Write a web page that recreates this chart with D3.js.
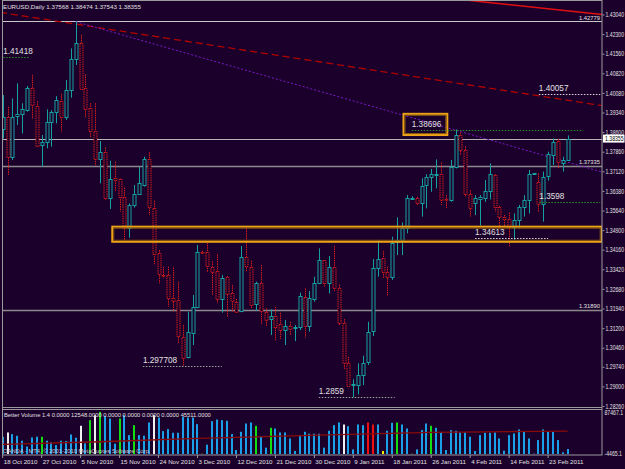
<!DOCTYPE html>
<html>
<head>
<meta charset="utf-8">
<script src="https://cdn.jsdelivr.net/npm/d3@7"></script>
<style>
    body { margin: 0; background: #1c002c; }
    text { font-family: "Liberation Sans", Arial, sans-serif; }
</style>
</head>
<body>
<script>
    // EURUSD daily bars, 18 Oct 2010 .. 25 Feb 2011
    var opens = [1.3874,1.3918,1.3767,1.3918,1.3927,1.3943,1.4025,1.3960,1.3811,1.3824,
        1.3899,1.3937,1.3977,1.3916,1.4019,1.4135,1.4195,1.4028,1.3950,1.3865,
        1.3758,1.3786,1.3612,1.3685,1.3683,1.3615,1.3497,1.3585,1.3626,1.3660,
        1.3757,1.3575,1.3402,1.3321,1.3321,1.3235,1.3225,1.3088,1.3009,1.3104,
        1.3201,1.3409,1.3406,1.3352,1.3336,1.3232,1.3314,1.3251,1.3220,1.3182,
        1.3387,1.3352,1.3210,1.3289,1.3182,1.3153,1.3166,1.3134,1.3113,1.3128,
        1.3123,1.3125,1.3239,1.3128,1.3232,1.3289,1.3377,1.3292,1.3349,1.3270,
        1.3138,1.2987,1.2903,1.2905,1.2943,1.2990,1.3107,1.3346,1.3384,1.3333,
        1.3310,1.3446,1.3453,1.3497,1.3612,1.3610,1.3591,1.3657,1.3689,1.3699,
        1.3701,1.3606,1.3604,1.3729,1.3849,1.3792,1.3626,1.3591,1.3607,1.3612,
        1.3639,1.3698,1.3578,1.3541,1.3532,1.3503,1.3528,1.3578,1.3604,1.3703,
        1.3673,1.3591,1.3692,1.3774,1.3826,1.3742,1.37568];
    var highs = [1.4000,1.3956,1.3987,1.4044,1.3969,1.4034,1.4076,1.3977,1.3849,1.3946,
        1.3943,1.3996,1.4004,1.4057,1.4176,1.4277,1.4227,1.4078,1.3969,1.3969,
        1.3826,1.3802,1.3752,1.3748,1.3685,1.3651,1.3591,1.3660,1.3729,1.3767,
        1.3784,1.3601,1.3415,1.3352,1.3352,1.3349,1.3295,1.3132,1.3182,1.3245,
        1.3434,1.3412,1.3443,1.3373,1.3399,1.3321,1.3317,1.3283,1.3230,1.3430,
        1.3497,1.3375,1.3295,1.3358,1.3195,1.3191,1.3201,1.3178,1.3151,1.3144,
        1.3132,1.3254,1.3270,1.3260,1.3314,1.3421,1.3377,1.3392,1.3430,1.3285,
        1.3154,1.3012,1.2927,1.2987,1.3016,1.3144,1.3381,1.3453,1.3411,1.3352,
        1.3465,1.3538,1.3519,1.3622,1.3618,1.3616,1.3686,1.3701,1.3721,1.3757,
        1.3745,1.3622,1.3755,1.3870,1.3859,1.3807,1.3641,1.3622,1.3622,1.3679,
        1.3742,1.3701,1.3581,1.3547,1.3556,1.3553,1.3585,1.3622,1.3717,1.3706,
        1.3705,1.3711,1.3786,1.3836,1.3834,1.3767,1.38474];
    var lows = [1.3836,1.3698,1.3755,1.3887,1.3855,1.3937,1.3909,1.3805,1.3729,1.3799,
        1.3805,1.3893,1.3862,1.3906,1.3990,1.4113,1.4019,1.3914,1.3839,1.3733,
        1.3667,1.3604,1.3570,1.3638,1.3560,1.3453,1.3461,1.3575,1.3623,1.3654,
        1.3547,1.3358,1.3289,1.3308,1.3201,1.3182,1.3063,1.2977,1.3006,1.3056,
        1.3195,1.3404,1.3333,1.3245,1.3214,1.3178,1.3163,1.3182,1.3178,1.3180,
        1.3333,1.3195,1.3185,1.3132,1.3125,1.3094,1.3073,1.3079,1.3056,1.3094,
        1.3071,1.3113,1.3084,1.3107,1.3220,1.3289,1.3277,1.3251,1.3258,1.3129,
        1.2964,1.2899,1.2859,1.2870,1.2905,1.2981,1.3090,1.3314,1.3308,1.3243,
        1.3302,1.3396,1.3396,1.3478,1.3606,1.3585,1.3541,1.3572,1.3635,1.3648,
        1.3585,1.3572,1.3597,1.3723,1.3774,1.3614,1.3541,1.3547,1.3507,1.3597,
        1.3606,1.3560,1.3497,1.3503,1.3427,1.3453,1.3497,1.3541,1.3553,1.3702,
        1.3560,1.3522,1.3677,1.3736,1.3723,1.3711,1.37543];
    var closes = [1.3918,1.3767,1.3918,1.3927,1.3946,1.4025,1.3960,1.3809,1.3824,1.3899,
        1.3937,1.3981,1.3918,1.4019,1.4135,1.4195,1.4023,1.3950,1.3865,1.3758,
        1.3786,1.3612,1.3683,1.3679,1.3615,1.3497,1.3585,1.3626,1.3667,1.3757,
        1.3575,1.3402,1.3321,1.3318,1.3235,1.3222,1.3088,1.3009,1.3104,1.3201,
        1.3409,1.3406,1.3352,1.3333,1.3232,1.3310,1.3251,1.3220,1.3182,1.3387,
        1.3352,1.3210,1.3289,1.3185,1.3153,1.3166,1.3125,1.3113,1.3128,1.3117,
        1.3125,1.3243,1.3128,1.3232,1.3292,1.3377,1.3292,1.3352,1.3270,1.3138,
        1.2987,1.2902,1.2908,1.2943,1.2990,1.3104,1.3346,1.3380,1.3333,1.3314,
        1.3440,1.3453,1.3497,1.3612,1.3612,1.3591,1.3657,1.3689,1.3701,1.3702,
        1.3604,1.3604,1.3729,1.3849,1.3792,1.3626,1.3572,1.3610,1.3616,1.3639,
        1.3702,1.3578,1.3541,1.3534,1.3503,1.3528,1.3578,1.3604,1.3702,1.3705,
        1.3591,1.3692,1.3776,1.3824,1.3748,1.3755,1.38355];

    // Better Volume histogram
    var volumes = [34600,43300,40000,36700,26700,15000,33300,34700,34700,26700,
        23300,18000,26700,26000,39300,32700,56700,21300,68000,78000,
        84700,76000,71300,20700,71300,78000,38000,58000,38000,36700,
        63300,78000,73300,46000,50000,42700,42700,74700,73300,73300,
        60000,500,18700,66000,69300,68000,66700,40000,8000,44700,
        61300,63300,56700,36000,12700,52700,51300,43300,43300,31300,
        6000,36000,44700,40700,40700,40700,12700,46700,58000,63300,
        59300,56000,9300,59300,58000,63300,59300,59300,6000,46700,
        62700,63300,59300,51300,500,9300,48000,61300,56700,52700,
        43300,8000,48000,46700,43300,43300,34700,6000,38000,42700,
        42700,43300,31300,6700,38000,41300,49300,44700,31300,700,
        28000,49300,44700,44700,28000,3300,10000];
    // b = blue, g = green, w = white, r = red, y = yellow
    var volumeKinds = ["b","w","b","b","b","b","b","b","g","b",
        "b","b","b","b","b","b","w","b","g","w",
        "g","b","b","b","g","b","b","g","b","b",
        "b","w","b","b","b","b","b","b","b","b",
        "b","g","b","b","b","b","b","b","b","b",
        "b","b","g","b","b","g","b","b","b","b",
        "b","b","b","b","b","b","b","b","b","b",
        "w","b","b","b","b","r","r","b","y","b",
        "b","g","b","b","g","b","b","b","g","b",
        "b","b","b","b","b","b","b","b","b","b",
        "b","b","b","b","b","b","b","b","b","b",
        "b","b","b","b","b","b","b"];
    var volumeMaBars = [1, 21, 41, 66, 89, 117];
    var volumeMaValues = [19400, 24600, 31400, 38000, 43400, 46000];

    var dateBars = [1, 9, 17, 25, 33, 41, 49, 57, 65, 73, 81, 89, 97, 105, 113];
    var dateLabels = ["18 Oct 2010", "27 Oct 2010", "5 Nov 2010", "15 Nov 2010", "24 Nov 2010",
        "3 Dec 2010", "12 Dec 2010", "21 Dec 2010", "30 Dec 2010", "9 Jan 2011",
        "18 Jan 2011", "26 Jan 2011", "4 Feb 2011", "14 Feb 2011", "23 Feb 2011"];
    var priceTicks = [1.43040, 1.42300, 1.41560, 1.40820, 1.40080, 1.39340, 1.38600, 1.37860,
        1.37120, 1.36380, 1.35640, 1.34900, 1.34160, 1.33420, 1.32680, 1.31940,
        1.31200, 1.30460, 1.29740, 1.29000, 1.28260];
    var volumeTicks = [87467.1, -4465.1];

    // chart objects
    var hLinePrices = [1.42779, 1.37335, 1.31890];
    var bidPrice = 1.38355;
    var levelPrices = [1.41418, 1.297708, 1.2859, 1.38696, 1.40057, 1.3598, 1.34613];
    var levelFrom = [1.1, 29.8, 65.9, 85.0, 111.1, 111.2, 98.0];
    var levelTo = [6.6, 46.0, 81.5, 120.2, 123.7, 123.7, 113.0];
    var levelKinds = ["green", "grey", "grey", "green", "white", "green", "white"];
    var boxes = [
        {from: 23.5, to: 124.0, top: 1.3503, bottom: 1.3446},
        {from: 83.3, to: 92.3, top: 1.3929, bottom: 1.3849}
    ];
    var trendLines = [
        {from: 0.45, p1: 1.4312, to: 124.1, p2: 1.3960, kind: "reddash"},
        {from: 96.0, p1: 1.43587, to: 124.1, p2: 1.43040, kind: "red"},
        {from: 16.0, p1: 1.4277, to: 124.1, p2: 1.37093, kind: "purple"}
    ];

    var W = 625, H = 469;
    var bg = "#1c002c", bullCol = "#14a0a0", bearCol = "#d41c1c", txtCol = "#e0e0e0";
    var squeeze = 0.78;   // MT4 axis font is narrow

    var svg = d3.select("body").append("svg")
        .attr("width", W).attr("height", H);

    svg.append("rect").attr("width", W).attr("height", H).attr("fill", bg);

    var x = d3.scaleLinear().domain([1, 117]).range([2.7, 567.6]);
    var y = d3.scaleLinear().domain([1.2826, 1.4304]).range([406, 14.5]);
    var yv = d3.scaleLinear().domain([0, 87467]).range([454, 410.5]);

    var defs = svg.append("defs");
    defs.append("clipPath").attr("id", "clipMain")
        .append("rect").attr("x", 2).attr("y", 0).attr("width", 600).attr("height", 407);
    defs.append("clipPath").attr("id", "clipVol")
        .append("rect").attr("x", 2).attr("y", 410).attr("width", 600).attr("height", 45);

    var main = svg.append("g").attr("clip-path", "url(#clipMain)");

    // horizontal lines
    main.selectAll(".hl").data(hLinePrices).enter().append("line")
        .attr("x1", 2).attr("x2", 602)
        .attr("y1", function (d) { return Math.round(y(d)) + 0.5; })
        .attr("y2", function (d) { return Math.round(y(d)) + 0.5; })
        .attr("stroke", function (d, i) { return i === 0 ? "#c8c8c8" : "#8a8a8a"; })
        .attr("stroke-width", function (d, i) { return i === 0 ? 1 : 1.6; });
    main.append("line")
        .attr("x1", 2).attr("x2", 602)
        .attr("y1", Math.round(y(bidPrice)) + 0.5).attr("y2", Math.round(y(bidPrice)) + 0.5)
        .attr("stroke", "#b4b4b4");
    main.selectAll(".hlt").data(hLinePrices).enter().append("text")
        .attr("x", 600).attr("y", function (d) { return y(d) - 1.5; })
        .attr("text-anchor", "end").attr("font-size", "5.8px").attr("fill", txtCol)
        .text(function (d) { return d.toFixed(5); });

    // trend lines
    var tlStyle = {
        reddash: {stroke: "#b00000", dash: "7,4", w: 1.3},
        red: {stroke: "#e01010", dash: null, w: 1.6},
        purple: {stroke: "#7a18c8", dash: "2,2", w: 1}
    };
    main.selectAll(".tl").data(trendLines).enter().append("line")
        .attr("x1", function (d) { return x(d.from); })
        .attr("y1", function (d) { return y(d.p1); })
        .attr("x2", function (d) { return x(d.to); })
        .attr("y2", function (d) { return y(d.p2); })
        .attr("stroke", function (d) { return tlStyle[d.kind].stroke; })
        .attr("stroke-width", function (d) { return tlStyle[d.kind].w; })
        .attr("stroke-dasharray", function (d) { return tlStyle[d.kind].dash; });

    // candles
    var candles = opens.map(function (o, k) {
        return {i: k + 1, o: o, h: highs[k], l: lows[k], c: closes[k]};
    });
    var cx = function (d) { return Math.round(x(d.i)) + 0.5; };
    var col = function (d) { return d.c >= d.o ? bullCol : bearCol; };

    main.selectAll(".wick").data(candles).enter().append("line")
        .attr("x1", cx).attr("x2", cx)
        .attr("y1", function (d) { return y(d.h); })
        .attr("y2", function (d) { return y(d.l); })
        .attr("stroke", col)
        .attr("stroke-dasharray", function (d) { return d.c >= d.o ? null : "1.5,0.8"; });

    main.selectAll(".body").data(candles).enter().append("rect")
        .attr("x", function (d) { return cx(d) - 1.5; })
        .attr("width", 3)
        .attr("y", function (d) { return Math.round(y(Math.max(d.o, d.c))) + 0.5; })
        .attr("height", function (d) { return Math.max(1, Math.round(Math.abs(y(d.o) - y(d.c)))); })
        .attr("fill", bg)
        .attr("stroke", col)
        .attr("stroke-dasharray", function (d) { return d.c >= d.o ? null : "1.5,0.8"; });

    // rectangles
    main.selectAll(".box").data(boxes).enter().append("rect")
        .attr("x", function (d) { return x(d.from); })
        .attr("y", function (d) { return y(d.top); })
        .attr("width", function (d) { return x(d.to) - x(d.from); })
        .attr("height", function (d) { return y(d.bottom) - y(d.top); })
        .attr("fill", "none").attr("stroke", "#eca416").attr("stroke-width", 2);
    main.selectAll(".boxin").data(boxes).enter().append("rect")
        .attr("x", function (d) { return x(d.from) + 1.5; })
        .attr("y", function (d) { return y(d.top) + 1.5; })
        .attr("width", function (d) { return x(d.to) - x(d.from) - 3; })
        .attr("height", function (d) { return y(d.bottom) - y(d.top) - 3; })
        .attr("fill", "none").attr("stroke", "#8a5a10").attr("stroke-width", 1);

    // price level marks
    var levelCol = {green: "#2a8a2a", grey: "#9aa89a", white: "#d8d8d8"};
    main.selectAll(".lvl").data(levelPrices).enter().append("line")
        .attr("x1", function (d, i) { return x(levelFrom[i]); })
        .attr("x2", function (d, i) { return x(levelTo[i]); })
        .attr("y1", function (d) { return Math.round(y(d)) + 0.5; })
        .attr("y2", function (d) { return Math.round(y(d)) + 0.5; })
        .attr("stroke", function (d, i) { return levelCol[levelKinds[i]]; })
        .attr("stroke-dasharray", "1.5,1.5");
    main.selectAll(".lvlt").data(levelPrices).enter().append("text")
        .attr("x", function (d, i) { return x(levelFrom[i]); })
        .attr("y", function (d) { return y(d) - 3; })
        .attr("font-size", "8.2px").attr("fill", txtCol)
        .text(function (d) { return String(d); });

    // title
    svg.append("text").attr("x", 3).attr("y", 9)
        .attr("font-size", "6.2px").attr("fill", txtCol)
        .text("EURUSD,Daily  1.37568 1.38474 1.37543 1.38355");

    // volume window
    var vol = svg.append("g").attr("clip-path", "url(#clipVol)");
    var volCol = {b: "#1aa0e6", g: "#10e010", w: "#f0f0f0", r: "#f01010", y: "#f0f000"};
    vol.selectAll(".vb").data(volumes).enter().append("rect")
        .attr("x", function (d, i) { return Math.round(x(i + 1)) - 1; })
        .attr("width", 2)
        .attr("y", function (d) { return yv(d); })
        .attr("height", function (d) { return yv(0) - yv(d); })
        .attr("fill", function (d, i) { return volCol[volumeKinds[i]]; });
    vol.append("path")
        .datum(volumeMaBars)
        .attr("d", d3.line()
            .x(function (d) { return x(d); })
            .y(function (d, i) { return yv(volumeMaValues[i]); }))
        .attr("fill", "none").attr("stroke", "#8a0a0a").attr("stroke-width", 1.3);
    svg.append("text").attr("x", 4).attr("y", 417)
        .attr("font-size", "5.8px").attr("fill", txtCol)
        .text("Better Volume 1.4 0.0000 12548.0000 0.0000 0.0000 0.0000 0.0000 45511.0000");
    svg.append("text").attr("x", 3).attr("y", 453)
        .attr("font-size", "5.8px").attr("fill", "#c8c8c8")
        .text("OANDA - MT4, \u00a9 2001-2010 MetaQuotes Software Corp.");

    // frames
    svg.append("rect").attr("x", 2.5).attr("y", 0.5).attr("width", 599.5).attr("height", 454.5)
        .attr("fill", "none").attr("stroke", "#9a9a9a");
    svg.append("line").attr("x1", 2).attr("x2", 602).attr("y1", 407.5).attr("y2", 407.5)
        .attr("stroke", "#9a9a9a");
    svg.append("line").attr("x1", 2).attr("x2", 602).attr("y1", 409.5).attr("y2", 409.5)
        .attr("stroke", "#9a9a9a");

    // price axis
    var yAxis = d3.axisRight(y).tickValues(priceTicks).tickSize(2).tickPadding(1)
        .tickFormat(function (d) { return d.toFixed(5); });
    var ya = svg.append("g").attr("transform", "translate(602.5,0)").call(yAxis);
    ya.select(".domain").remove();
    ya.selectAll("line").attr("stroke", "#9a9a9a");
    ya.selectAll("text").attr("font-size", "6.6px").attr("fill", txtCol)
        .attr("x", 3 / squeeze)
        .attr("transform", "scale(" + squeeze + ",1)")
        .attr("font-family", "Liberation Sans, Arial, sans-serif");

    svg.append("rect").attr("x", 603).attr("y", y(bidPrice) - 4).attr("width", 21.5).attr("height", 8)
        .attr("fill", "#ffffff");
    svg.append("g").attr("transform", "translate(605," + (y(bidPrice) + 2.3) + ") scale(" + squeeze + ",1)")
        .append("text")
        .attr("font-size", "6.6px").attr("fill", "#000")
        .text(bidPrice.toFixed(5));

    // volume axis
    svg.selectAll(".vt").data(volumeTicks).enter().append("g")
        .attr("transform", function (d, i) {
            return "translate(604.5," + (i === 0 ? 415 : 456) + ") scale(" + squeeze + ",1)";
        })
        .append("text")
        .attr("font-size", "6.6px").attr("fill", txtCol)
        .text(function (d) { return d.toFixed(1); });

    // time axis
    var xAxis = d3.axisBottom(x).tickValues(dateBars).tickSize(3).tickPadding(2)
        .tickFormat(function (d, k) { return dateLabels[k]; });
    var xa = svg.append("g").attr("transform", "translate(-0.5,455)").call(xAxis);
    xa.select(".domain").remove();
    xa.selectAll("line").attr("stroke", "#9a9a9a");
    xa.selectAll("text").attr("text-anchor", "start").attr("dx", "1")
        .attr("font-size", "6.2px").attr("fill", txtCol)
        .attr("font-family", "Liberation Sans, Arial, sans-serif");
</script>
</body>
</html>
